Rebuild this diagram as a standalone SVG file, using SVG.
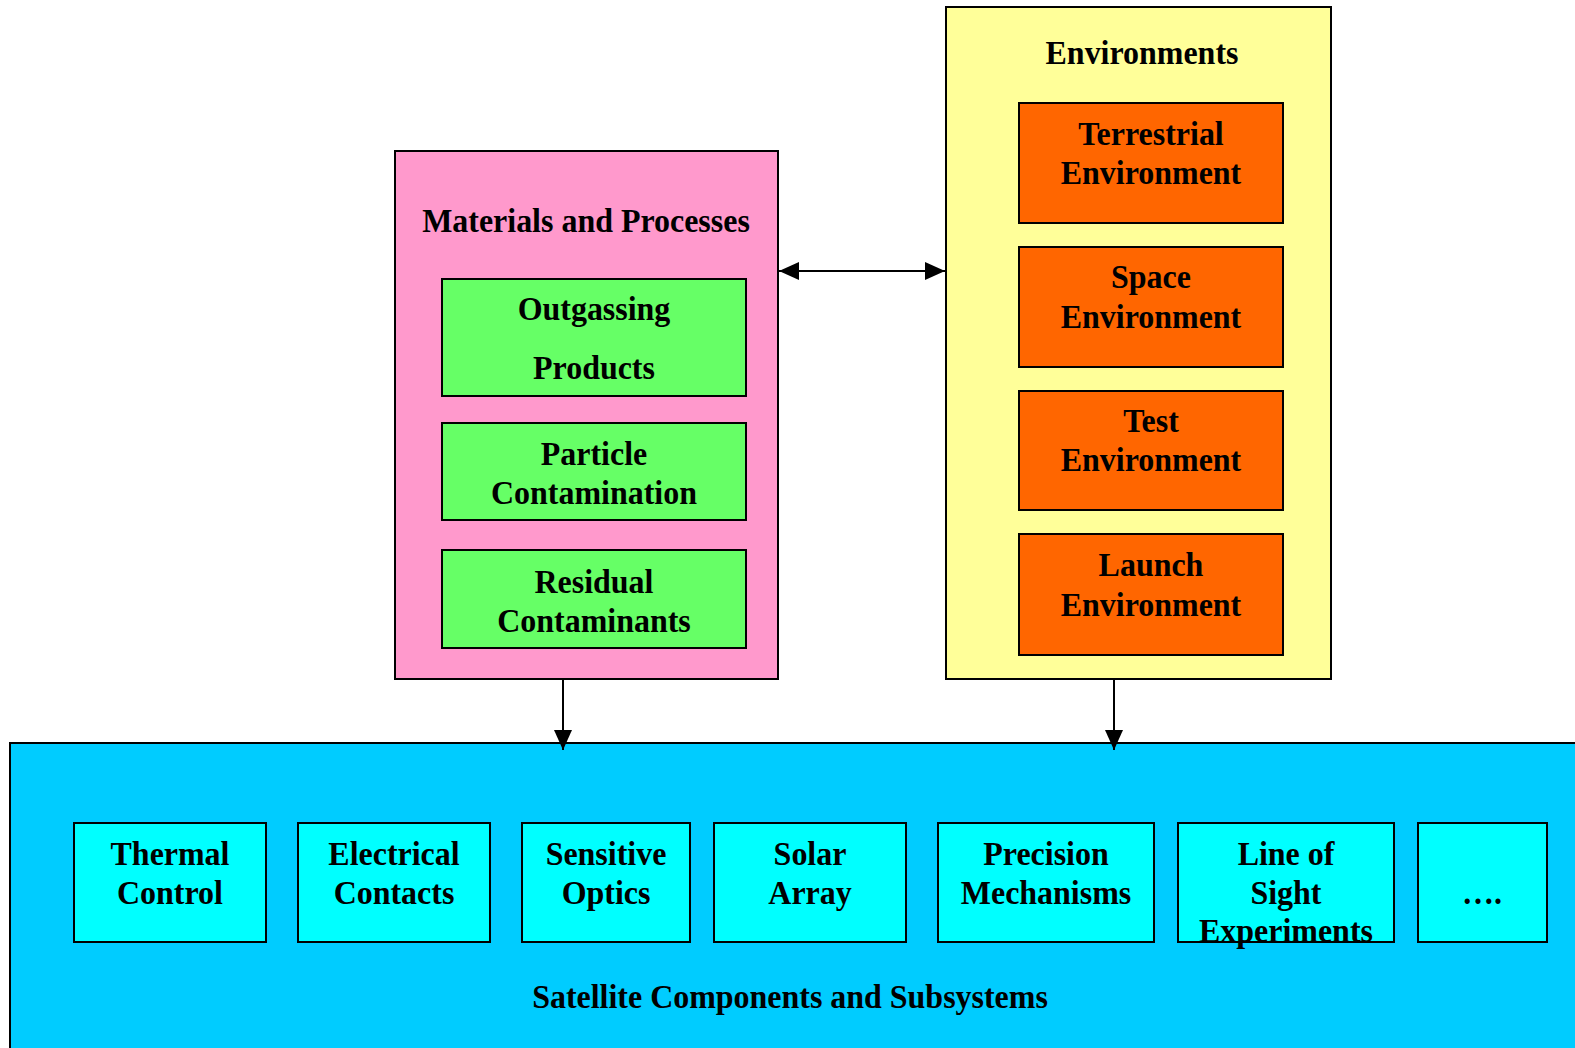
<svg xmlns="http://www.w3.org/2000/svg" width="1575" height="1048" viewBox="0 0 1575 1048">
  <style>
    .box { stroke: #000; stroke-width: 2; }
    .pink { fill: #FF99CC; }
    .green { fill: #66FF66; }
    .yellow { fill: #FFFF99; }
    .orange { fill: #FF6600; }
    .blue { fill: #00CCFF; }
    .cyan { fill: #00FFFF; }
    text { font-family: "Liberation Serif", "Times New Roman", serif; font-weight: bold; font-size: 34px; fill: #000; text-anchor: middle; }
    .conn { stroke: #000; stroke-width: 2; fill: none; }
  </style>
  <defs>
    <marker id="arrow" viewBox="0 0 20 18" refX="20" refY="9" markerWidth="20" markerHeight="18" markerUnits="userSpaceOnUse" orient="auto-start-reverse">
      <path d="M0,0 L20,9 L0,18 Z" fill="#000"/>
    </marker>
  </defs>

  <rect width="1575" height="1048" fill="#fff"/>

  <!-- Satellite components container -->
  <g id="satellite">
    <rect class="box blue" x="10" y="743" width="1600" height="400"/>
    <g transform="translate(790,0) scale(0.94,1)"><text x="0" y="1008">Satellite Components and Subsystems</text></g>
  </g>

  <g id="thermal-control">
    <rect class="box cyan" x="74" y="823" width="192" height="119"/>
    <g transform="translate(170,0) scale(0.94,1)"><text x="0" y="865">Thermal</text><text x="0" y="904">Control</text></g>
  </g>
  <g id="electrical-contacts">
    <rect class="box cyan" x="298" y="823" width="192" height="119"/>
    <g transform="translate(394,0) scale(0.94,1)"><text x="0" y="865">Electrical</text><text x="0" y="904">Contacts</text></g>
  </g>
  <g id="sensitive-optics">
    <rect class="box cyan" x="522" y="823" width="168" height="119"/>
    <g transform="translate(606,0) scale(0.94,1)"><text x="0" y="865">Sensitive</text><text x="0" y="904">Optics</text></g>
  </g>
  <g id="solar-array">
    <rect class="box cyan" x="714" y="823" width="192" height="119"/>
    <g transform="translate(810,0) scale(0.94,1)"><text x="0" y="865">Solar</text><text x="0" y="904">Array</text></g>
  </g>
  <g id="precision-mechanisms">
    <rect class="box cyan" x="938" y="823" width="216" height="119"/>
    <g transform="translate(1046,0) scale(0.94,1)"><text x="0" y="865">Precision</text><text x="0" y="904">Mechanisms</text></g>
  </g>
  <g id="line-of-sight">
    <rect class="box cyan" x="1178" y="823" width="216" height="119"/>
    <g transform="translate(1286,0) scale(0.94,1)"><text x="0" y="865">Line of</text><text x="0" y="904">Sight</text><text x="0" y="942">Experiments</text></g>
  </g>
  <g id="more">
    <rect class="box cyan" x="1418" y="823" width="129" height="119"/>
    <g transform="translate(1482,0) scale(0.94,1)"><text x="0" y="904">….</text></g>
  </g>

  <!-- Materials and processes -->
  <g id="materials">
    <rect class="box pink" x="395" y="151" width="383" height="528"/>
    <g transform="translate(586,0) scale(0.94,1)"><text x="0" y="232">Materials and Processes</text></g>
  </g>
  <g id="outgassing">
    <rect class="box green" x="442" y="279" width="304" height="117"/>
    <g transform="translate(594,0) scale(0.94,1)"><text x="0" y="320">Outgassing</text><text x="0" y="379">Products</text></g>
  </g>
  <g id="particle">
    <rect class="box green" x="442" y="423" width="304" height="97"/>
    <g transform="translate(594,0) scale(0.94,1)"><text x="0" y="465">Particle</text><text x="0" y="504">Contamination</text></g>
  </g>
  <g id="residual">
    <rect class="box green" x="442" y="550" width="304" height="98"/>
    <g transform="translate(594,0) scale(0.94,1)"><text x="0" y="593">Residual</text><text x="0" y="632">Contaminants</text></g>
  </g>

  <!-- Environments -->
  <g id="environments">
    <rect class="box yellow" x="946" y="7" width="385" height="672"/>
    <g transform="translate(1142,0) scale(0.94,1)"><text x="0" y="64">Environments</text></g>
  </g>
  <g id="terrestrial">
    <rect class="box orange" x="1019" y="103" width="264" height="120"/>
    <g transform="translate(1151,0) scale(0.94,1)"><text x="0" y="145">Terrestrial</text><text x="0" y="184">Environment</text></g>
  </g>
  <g id="space">
    <rect class="box orange" x="1019" y="247" width="264" height="120"/>
    <g transform="translate(1151,0) scale(0.94,1)"><text x="0" y="288">Space</text><text x="0" y="328">Environment</text></g>
  </g>
  <g id="test">
    <rect class="box orange" x="1019" y="391" width="264" height="119"/>
    <g transform="translate(1151,0) scale(0.94,1)"><text x="0" y="432">Test</text><text x="0" y="471">Environment</text></g>
  </g>
  <g id="launch">
    <rect class="box orange" x="1019" y="534" width="264" height="121"/>
    <g transform="translate(1151,0) scale(0.94,1)"><text x="0" y="576">Launch</text><text x="0" y="616">Environment</text></g>
  </g>

  <!-- Connectors -->
  <g id="connectors">
    <line class="conn" x1="779" y1="271" x2="945" y2="271" marker-start="url(#arrow)" marker-end="url(#arrow)"/>
    <line class="conn" x1="563" y1="680" x2="563" y2="750" marker-end="url(#arrow)"/>
    <line class="conn" x1="1114" y1="680" x2="1114" y2="750" marker-end="url(#arrow)"/>
  </g>
</svg>
